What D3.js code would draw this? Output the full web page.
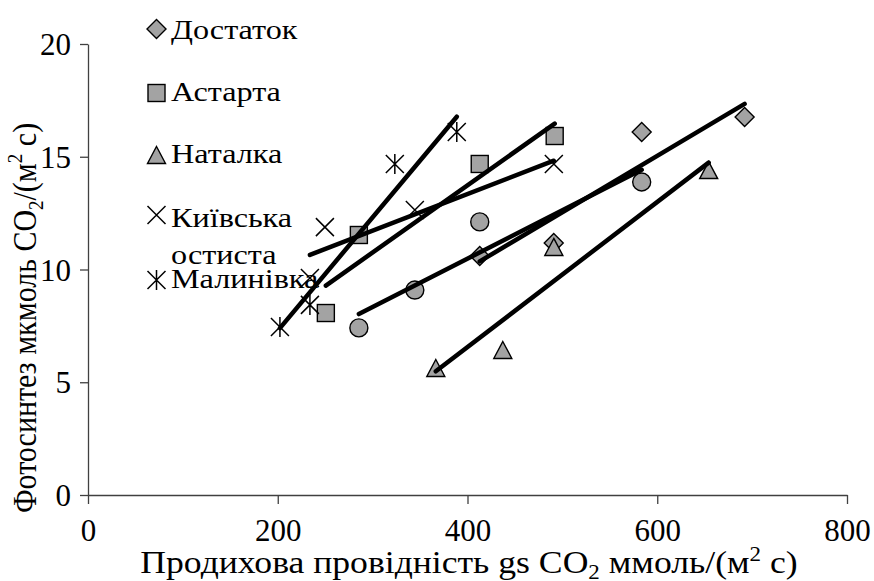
<!DOCTYPE html>
<html><head><meta charset="utf-8">
<script src="https://cdn.jsdelivr.net/npm/d3@7"></script>
<style>
body{margin:0;background:#fff;}
svg text{font-family:"Liberation Serif","Times New Roman","DejaVu Serif",serif;fill:#000;}
</style></head>
<body><svg id="c" width="874" height="581"></svg>
<script>
// data (x: stomatal conductance, y: photosynthesis)
const seriesNames = ["Достаток","Астарта","Наталка","Київська остиста","Малинівка","(без назви)"];
const dostatokX = [412.9, 490.9, 583.6, 692.1];
const dostatokY = [10.60, 11.18, 16.10, 16.76];
const astartaX = [250.7, 285.5, 412.9, 491.9];
const astartaY = [8.07, 11.53, 14.68, 15.92];
const natalkaX = [366.6, 437.2, 491.0, 654.2];
const natalkaY = [5.63, 6.43, 11.00, 14.41];
const kyivskaX = [233.9, 249.7, 344.5, 491.0];
const kyivskaY = [9.62, 11.88, 12.64, 14.68];
const malynivkaX = [202.3, 233.9, 323.4, 388.7];
const malynivkaY = [7.45, 8.43, 14.68, 16.10];
const circleX = [285.5, 344.5, 412.9, 583.6];
const circleY = [7.41, 9.09, 12.11, 13.88];
const xTicks = [0, 200, 400, 600, 800];
const yTicks = [0, 5, 10, 15, 20];

const series = [
  {name:seriesNames[0], x:dostatokX, y:dostatokY, sym:"diamond"},
  {name:seriesNames[1], x:astartaX, y:astartaY, sym:"square"},
  {name:seriesNames[2], x:natalkaX, y:natalkaY, sym:"triangle"},
  {name:seriesNames[3], x:kyivskaX, y:kyivskaY, sym:"x"},
  {name:seriesNames[4], x:malynivkaX, y:malynivkaY, sym:"asterisk"},
  {name:seriesNames[5], x:circleX, y:circleY, sym:"circle"}
];

const FONT = "'Liberation Serif','Times New Roman',serif";
const SX = 1.15; // horizontal stretch of the original picture's text
const svg = d3.select("#c");
const x = d3.scaleLinear().domain([0,800]).range([88,847]);
const y = d3.scaleLinear().domain([0,20]).range([495,44]);
const FILL = "#a3a3a3";

function marker(g, sym){
  if(sym==="diamond") g.append("path").attr("d","M0,-9.5L9.5,0L0,9.5L-9.5,0Z").attr("fill",FILL).attr("stroke","#000").attr("stroke-width",1.4);
  else if(sym==="square") g.append("rect").attr("x",-8.5).attr("y",-8.5).attr("width",17).attr("height",17).attr("fill",FILL).attr("stroke","#000").attr("stroke-width",1.4);
  else if(sym==="triangle") g.append("path").attr("d","M0,-8.5L9,8.5L-9,8.5Z").attr("fill",FILL).attr("stroke","#000").attr("stroke-width",1.4);
  else if(sym==="circle") g.append("circle").attr("r",9).attr("fill",FILL).attr("stroke","#000").attr("stroke-width",1.4);
  else if(sym==="x") g.append("path").attr("d","M-9,-9L9,9M9,-9L-9,9").attr("stroke","#000").attr("stroke-width",1.5).attr("fill","none");
  else if(sym==="asterisk") g.append("path").attr("d","M-9,-9L9,9M9,-9L-9,9M0,-10L0,10").attr("stroke","#000").attr("stroke-width",1.5).attr("fill","none");
}

// axes
const xAxis = svg.append("g").attr("transform","translate(0,495)")
  .call(d3.axisBottom(x).tickValues(xTicks).tickSize(9).tickSizeOuter(0).tickPadding(0));
const yAxis = svg.append("g").attr("transform","translate(88,0)")
  .call(d3.axisLeft(y).tickValues(yTicks).tickSize(8).tickSizeOuter(0).tickPadding(9));
[xAxis,yAxis].forEach(a=>{
  a.attr("font-family",null).attr("font-size",null);
  a.selectAll("path,line").attr("stroke","#404040").attr("stroke-width",1.3);
  a.selectAll("text").style("font-family",FONT).style("font-size","31px").attr("fill","#000");
});
xAxis.selectAll("text").attr("y",46).attr("dy",null);
yAxis.selectAll("text").attr("dy","0.34em");

// markers
series.forEach(s=>{
  s.x.forEach((xv,i)=>{
    const g = svg.append("g").attr("transform",`translate(${x(xv)},${y(s.y[i])})`);
    marker(g, s.sym);
  });
});

// linear trendlines (least squares over each series)
series.forEach(s=>{
  const mx=d3.mean(s.x), my=d3.mean(s.y);
  let sxy=0,sxx=0;
  s.x.forEach((xv,i)=>{sxy+=(xv-mx)*(s.y[i]-my); sxx+=(xv-mx)*(xv-mx);});
  const b=sxy/sxx, a=my-b*mx;
  const x0=d3.min(s.x), x1=d3.max(s.x);
  svg.append("line").attr("x1",x(x0)).attr("y1",y(a+b*x0)).attr("x2",x(x1)).attr("y2",y(a+b*x1))
    .attr("stroke","#000").attr("stroke-width",4.5).attr("stroke-linecap","round");
});

// legend
const legendRows = [
  {s:0, my:29, base:[39]},
  {s:1, my:93, base:[101]},
  {s:2, my:155, base:[163]},
  {s:3, my:215, base:[227,264]},
  {s:4, my:280, base:[288]}
];
const legendLines = [["Достаток"],["Астарта"],["Наталка"],["Київська","остиста"],["Малинівка"]];
legendRows.forEach((r,ri)=>{
  const g = svg.append("g").attr("transform",`translate(156.5,${r.my})`);
  marker(g, series[r.s].sym);
  legendLines[ri].forEach((t,k)=>{
    svg.append("text").attr("transform",`translate(171,${r.base[k]}) scale(${SX},1)`)
      .style("font-family",FONT).style("font-size","28px").text(t);
  });
});

// axis titles
const xt = svg.append("text").attr("transform",`translate(469,573) scale(${SX},1)`).attr("text-anchor","middle").style("font-family",FONT).style("font-size","31px");
xt.append("tspan").text("Продихова провідність gs CO");
xt.append("tspan").attr("dy",6).style("font-size","20px").text("2");
xt.append("tspan").attr("dy",-6).text(" ммоль/(м");
xt.append("tspan").attr("dy",-12).style("font-size","20px").text("2");
xt.append("tspan").attr("dy",12).text(" с)");

const yt = svg.append("text").attr("transform",`translate(36,318) scale(${SX},1) rotate(-90)`).attr("text-anchor","middle").style("font-family",FONT).style("font-size","30px");
yt.append("tspan").text("Фотосинтез мкмоль CO");
yt.append("tspan").attr("dy",6).style("font-size","19px").text("2");
yt.append("tspan").attr("dy",-6).text("/(м");
yt.append("tspan").attr("dy",-12).style("font-size","19px").text("2");
yt.append("tspan").attr("dy",12).text(" с)");
</script></body></html>
